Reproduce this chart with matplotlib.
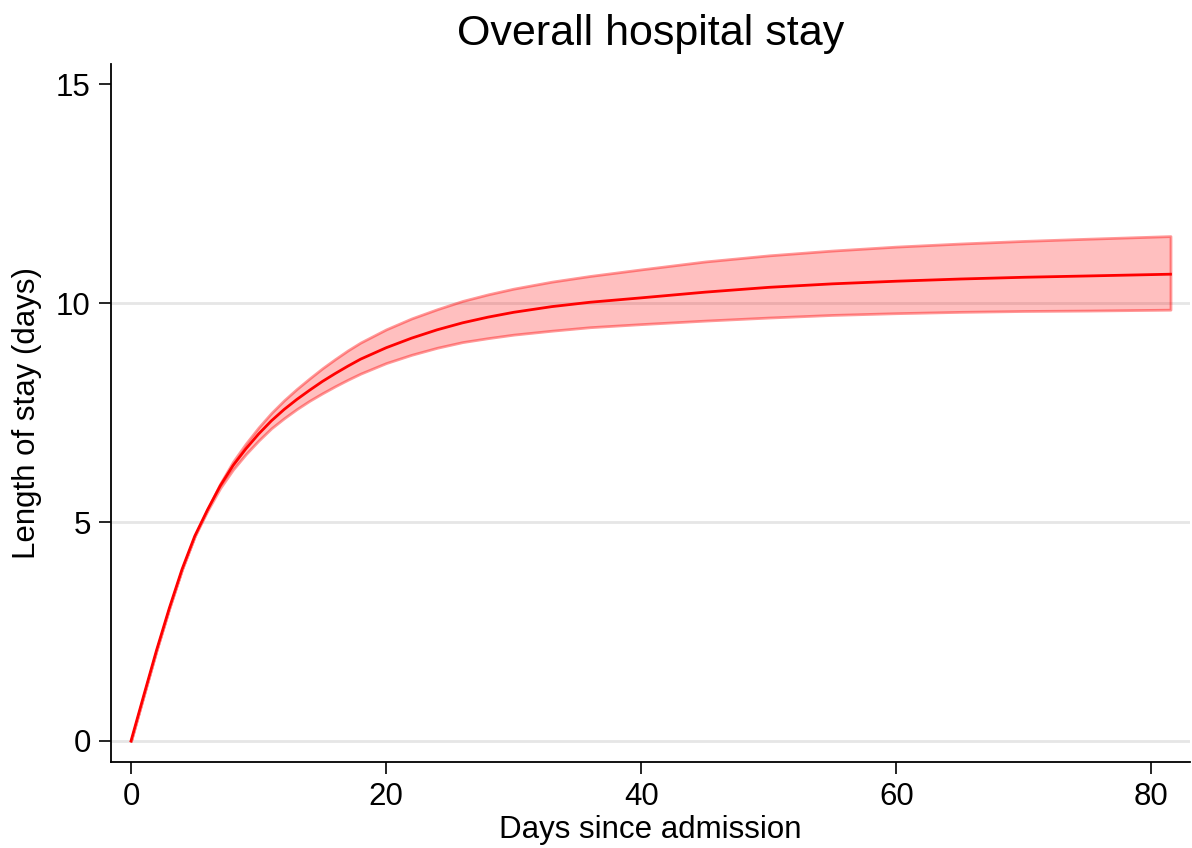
import matplotlib.pyplot as plt

plt.rcParams['font.family'] = ['Liberation Sans', 'DejaVu Sans']

# Data
days = [0, 1, 2, 3, 4, 5, 6, 7, 8, 9, 10, 11, 12, 13, 14, 15, 16, 17, 18,
        20, 22, 24, 26, 28, 30, 33, 36, 40, 45, 50, 55, 60, 65, 70, 75, 81.5]
los_mean = [0, 1.04, 2.07, 3.03, 3.92, 4.68, 5.28, 5.83, 6.29, 6.67, 7.01,
            7.31, 7.57, 7.80, 8.01, 8.21, 8.39, 8.56, 8.72, 8.98, 9.20, 9.39,
            9.55, 9.68, 9.79, 9.92, 10.02, 10.12, 10.25, 10.36, 10.44, 10.50,
            10.55, 10.59, 10.62, 10.66]
los_lower = [0, 1.04, 2.07, 3.03, 3.92, 4.68, 5.26, 5.78, 6.20, 6.55, 6.86,
             7.14, 7.37, 7.58, 7.77, 7.94, 8.10, 8.25, 8.39, 8.63, 8.82, 8.98,
             9.11, 9.20, 9.28, 9.37, 9.45, 9.52, 9.60, 9.67, 9.73, 9.77,
             9.80, 9.82, 9.83, 9.85]
los_upper = [0, 1.04, 2.07, 3.03, 3.92, 4.68, 5.30, 5.88, 6.38, 6.79, 7.16,
             7.49, 7.78, 8.04, 8.28, 8.51, 8.72, 8.92, 9.10, 9.40, 9.65, 9.86,
             10.05, 10.20, 10.33, 10.49, 10.62, 10.77, 10.95, 11.09, 11.20,
             11.29, 11.36, 11.42, 11.47, 11.53]
y_ticks = [0, 5, 10, 15]
grid_lines = [0, 5, 10]
x_ticks = [0, 20, 40, 60, 80]

fig = plt.figure(figsize=(11.92, 8.48), dpi=100)
ax = fig.add_axes([0.0931, 0.1014, 0.9049, 0.8231])

# Horizontal grid lines (none at the top tick)
for g in grid_lines:
    ax.axhline(g, color='#e6e6e6', lw=2, zorder=0)

# Confidence band and predicted length of stay
ax.fill_between(days, los_lower, los_upper, facecolor=(1, 0, 0, 0.25),
                edgecolor=(1, 0, 0, 0.4), lw=2, zorder=2)
ax.plot(days, los_mean, color='red', lw=2.0, solid_joinstyle='round', zorder=3)

ax.set_xlim(-1.57, 83.0)
ax.set_ylim(-0.48, 15.46)
ax.set_xticks(x_ticks)
ax.set_yticks(y_ticks)
ax.tick_params(axis='both', labelsize=22.5, length=8.6, width=1.2, pad=6)

for s in ['top', 'right']:
    ax.spines[s].set_visible(False)
for s in ['left', 'bottom']:
    ax.spines[s].set_linewidth(1.3)

ax.set_title('Overall hospital stay', fontsize=31, pad=14)
ax.set_xlabel('Days since admission', fontsize=22.5, labelpad=2)
ax.set_ylabel('Length of stay (days)', fontsize=22.5, labelpad=10)

fig.savefig('out.png', dpi=100)
